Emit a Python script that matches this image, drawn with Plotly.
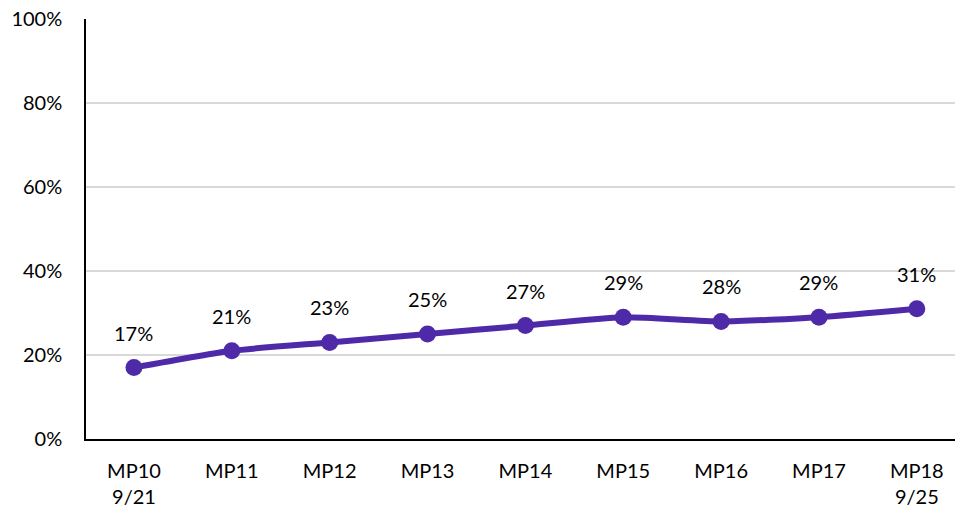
import plotly.graph_objects as go

categories = ["MP10<br>9/21", "MP11", "MP12", "MP13", "MP14", "MP15", "MP16", "MP17", "MP18<br>9/25"]
values = [17, 21, 23, 25, 27, 29, 28, 29, 31]
y_ticks = [0, 20, 40, 60, 80, 100]
y_tick_labels = ["0%", "20%", "40%", "60%", "80%", "100%"]

purple = "#4F2AA8"
font_family = "Lato, 'Open Sans', sans-serif"
x = list(range(len(categories)))

fig = go.Figure()
fig.add_trace(go.Scatter(
    x=x, y=values, mode="lines+markers",
    line=dict(color=purple, width=6, shape="spline", smoothing=0.6),
    marker=dict(color=purple, size=17),
    hoverinfo="skip",
))
for xi, v in zip(x, values):
    fig.add_annotation(x=xi, y=v, text=f"{v}%", showarrow=False, yshift=35,
                       font=dict(size=20, color="#000000", family=font_family))

fig.update_layout(
    width=955, height=514,
    margin=dict(l=86, r=0, t=19, b=75),
    paper_bgcolor="white", plot_bgcolor="white",
    showlegend=False,
    font=dict(family=font_family, size=20, color="#000000"),
)
fig.update_xaxes(
    range=[-0.49, 8.39], tickvals=x, ticktext=categories,
    showgrid=False, zeroline=False,
    showline=True, linecolor="#000000", linewidth=2,
    ticks="", ticklabelstandoff=13,
    tickfont=dict(size=20, family=font_family),
)
fig.update_yaxes(
    range=[0, 100], tickvals=y_ticks, ticktext=y_tick_labels,
    showgrid=True, gridcolor="#D9D9D9", gridwidth=1.5,
    zeroline=False, showline=True, linecolor="#000000", linewidth=1.5,
    ticks="", ticklabelstandoff=18,
    tickfont=dict(size=20, family=font_family),
)

fig.write_html("out.html")
